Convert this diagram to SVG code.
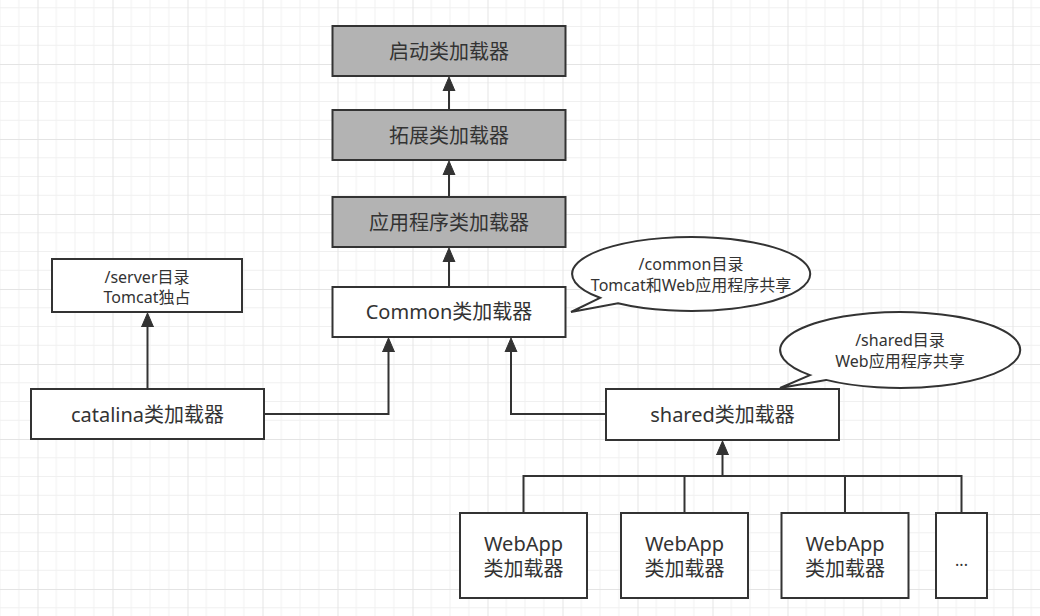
<svg xmlns="http://www.w3.org/2000/svg" width="1040" height="616" viewBox="0 0 1040 616">
<style>
.box{fill:#ffffff;stroke:#333333;stroke-width:2}
.gray{fill:#b3b3b3}
.bub{fill:#ffffff;stroke:#333333;stroke-width:2;stroke-linejoin:miter}
.t{font-family:"Noto Sans","Noto Sans CJK SC",sans-serif;fill:#333333;text-anchor:middle}
.l{font-size:20px}
.s{font-size:16px}
.c{fill:none;stroke:#333333;stroke-width:2}
.minor{stroke:#f0f0f0;stroke-width:1}
.major{stroke:#e4e4e4;stroke-width:1}
</style>
<defs>
<pattern id="grid" patternUnits="userSpaceOnUse" x="37.5" y="64" width="75" height="75">
<line class="minor" x1="18.75" y1="0" x2="18.75" y2="75"/>
<line class="minor" x1="37.5" y1="0" x2="37.5" y2="75"/>
<line class="minor" x1="56.25" y1="0" x2="56.25" y2="75"/>
<line class="minor" x1="0" y1="18.75" x2="75" y2="18.75"/>
<line class="minor" x1="0" y1="37.5" x2="75" y2="37.5"/>
<line class="minor" x1="0" y1="56.25" x2="75" y2="56.25"/>
<line class="major" x1="0.5" y1="0" x2="0.5" y2="75"/>
<line class="major" x1="0" y1="0.5" x2="75" y2="0.5"/>
</pattern>
<marker id="ah" markerUnits="userSpaceOnUse" viewBox="0 -7 16 14" refX="0" refY="0" markerWidth="16" markerHeight="14" orient="auto">
<path d="M0,-6 L14,0 L0,6 Z" fill="#333333" stroke="#333333" stroke-width="1"/>
</marker>
</defs>
<rect x="0" y="0" width="1040" height="616" fill="#ffffff"/>
<rect x="0" y="0" width="1040" height="616" fill="url(#grid)"/>

<g id="connectors">
<path class="c" d="M449,110 V91" marker-end="url(#ah)"/>
<path class="c" d="M449,197 V175" marker-end="url(#ah)"/>
<path class="c" d="M449,287 V262" marker-end="url(#ah)"/>
<path class="c" d="M147.5,389 V327" marker-end="url(#ah)"/>
<path class="c" d="M264,414 H388.5 V352" marker-end="url(#ah)"/>
<path class="c" d="M606,414 H511 V352" marker-end="url(#ah)"/>
<path class="c" d="M523.5,513 V476 H961.5 V513"/>
<path class="c" d="M684.5,513 V476"/>
<path class="c" d="M845,513 V476"/>
<path class="c" d="M722.5,477 V455" marker-end="url(#ah)"/>
</g>

<g id="bootstrap">
<rect class="box gray" x="332.5" y="26" width="233" height="50"/>
<text class="t l" x="449" y="58.5">启动类加载器</text>
</g>
<g id="extension">
<rect class="box gray" x="332.5" y="110" width="233" height="50"/>
<text class="t l" x="449" y="142.5">拓展类加载器</text>
</g>
<g id="application">
<rect class="box gray" x="332.5" y="197" width="233" height="50"/>
<text class="t l" x="449" y="229.5">应用程序类加载器</text>
</g>
<g id="common">
<rect class="box" x="332.5" y="287" width="233" height="50"/>
<text class="t l" x="449" y="319">Common类加载器</text>
</g>
<g id="server-note">
<rect class="box" x="52" y="259" width="190" height="53"/>
<text class="t s" x="147" y="282.5">/server目录</text>
<text class="t s" x="147" y="303">Tomcat独占</text>
</g>
<g id="catalina">
<rect class="box" x="31" y="389" width="233" height="50"/>
<text class="t l" x="147.5" y="421.5">catalina类加载器</text>
</g>
<g id="shared">
<rect class="box" x="606" y="389" width="233" height="51"/>
<text class="t l" x="722.5" y="421.5">shared类加载器</text>
</g>
<g id="common-bubble">
<path class="bub" d="M600,297.8 A119 37 0 1 1 618,303.2 L571,312 Z"/>
<text class="t s" x="691" y="270">/common目录</text>
<text class="t s" x="691" y="290.5">Tomcat和Web应用程序共享</text>
</g>
<g id="shared-bubble">
<path class="bub" d="M810,375.1 A120 38 0 1 1 826,379.9 L780,388 Z"/>
<text class="t s" x="900" y="346">/shared目录</text>
<text class="t s" x="900" y="366.5">Web应用程序共享</text>
</g>
<g id="webapp1">
<rect class="box" x="460" y="513" width="127" height="85"/>
<text class="t l" x="523.5" y="551">WebApp</text>
<text class="t l" x="523.5" y="576">类加载器</text>
</g>
<g id="webapp2">
<rect class="box" x="621" y="513" width="127" height="85"/>
<text class="t l" x="684.5" y="551">WebApp</text>
<text class="t l" x="684.5" y="576">类加载器</text>
</g>
<g id="webapp3">
<rect class="box" x="781.5" y="513" width="127" height="85"/>
<text class="t l" x="845" y="551">WebApp</text>
<text class="t l" x="845" y="576">类加载器</text>
</g>
<g id="more">
<rect class="box" x="936" y="513" width="51" height="85"/>
<text class="t s" x="961.5" y="566">...</text>
</g>
</svg>
